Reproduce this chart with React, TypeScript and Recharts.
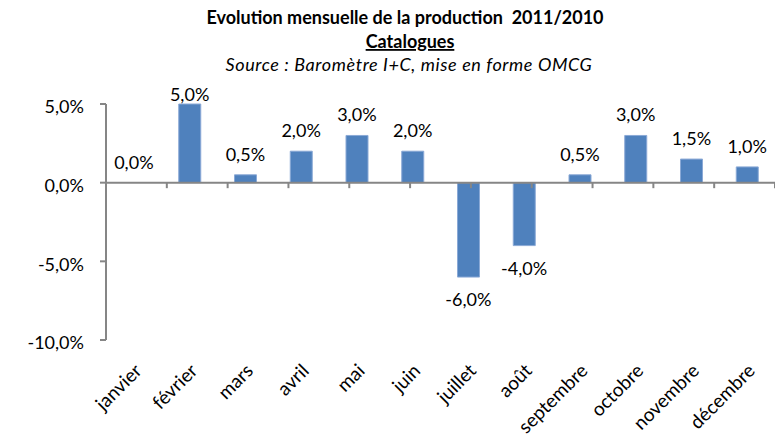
import React from "react";
import {
    ComposedChart, Bar, Line, XAxis, YAxis, ReferenceLine, LabelList
} from "recharts";

const MONTHS = [
    "janvier", "février", "mars", "avril", "mai", "juin",
    "juillet", "août", "septembre", "octobre", "novembre", "décembre"
];
const VALUES = [0, 5, 0.5, 2, 3, 2, -6, -4, 0.5, 3, 1.5, 1];
const Y_TICKS = [-10, -5, 0, 5];

const TITLE = "Evolution mensuelle de la production\u00a0\u00a02011/2010";
const SUBTITLE = "Catalogues";
const SOURCE = "Source : Baromètre I+C, mise en forme OMCG";

const FONT = "Lato, 'Open Sans', sans-serif";
const AXIS = "#868686";

const pct = (v: number) => `${v.toFixed(1).replace(".", ",")}%`;

const data = MONTHS.map((m, i) => ({ month: m, value: VALUES[i], label: pct(VALUES[i]) }));
const boundaries = MONTHS.map((_, i) => i + 1);

function MonthTick({ x, y, payload }: any) {
    const ax = x + 9;
    const ay = y + 32;
    return (
        <text
            x={ax}
            y={ay}
            transform={`rotate(-45 ${ax} ${ay})`}
            textAnchor="end"
            fontFamily={FONT}
            fontSize={19}
            fill="#000"
        >
            {payload.value}
        </text>
    );
}

// labels hang off an invisible line so the zero bar (janvier) gets one too
function ValueLabel({ x, y, value, index }: any) {
    const ty = VALUES[index] >= 0 ? Math.max(y - 14, 101) : y + 29;
    return (
        <text x={x} y={ty} textAnchor="middle" fontFamily={FONT} fontSize={18} fill="#000">
            {value}
        </text>
    );
}

export default function App() {
    return (
        <div style={{ position: "absolute", left: 0, top: 0, width: 775, height: 439, background: "#fff" }}>
            <svg width={775} height={80} style={{ position: "absolute", left: 0, top: 0 }}>
                <text x={405} y={24} textAnchor="middle" fontFamily={FONT} fontWeight="bold" fontSize={18} fill="#000">
                    {TITLE}
                </text>
                <text x={410} y={48} textAnchor="middle" fontFamily={FONT} fontWeight="bold" fontSize={18} fill="#000" textDecoration="underline">
                    {SUBTITLE}
                </text>
                <text x={409} y={71} textAnchor="middle" fontFamily={FONT} fontStyle="italic" fontSize={18} letterSpacing={0.6} fill="#000">
                    {SOURCE}
                </text>
            </svg>
            <ComposedChart
                width={775}
                height={439}
                data={data}
                margin={{ top: 104, right: 0, bottom: 0, left: 0 }}
                barSize={22}
            >
                <XAxis
                    dataKey="month"
                    interval={0}
                    axisLine={false}
                    tickLine={false}
                    tickSize={0}
                    tickMargin={0}
                    height={99}
                    tick={<MonthTick />}
                />
                <XAxis xAxisId="n" type="number" domain={[0, 12]} allowDataOverflow hide />
                <YAxis
                    domain={[-10, 5]}
                    ticks={Y_TICKS}
                    width={106}
                    stroke={AXIS}
                    strokeWidth={2}
                    tickSize={6}
                    tickMargin={16}
                    tickFormatter={pct}
                    tick={{ fontFamily: FONT, fontSize: 18, fill: "#000", dy: 3 }}
                />
                <ReferenceLine y={0} stroke={AXIS} strokeWidth={2} />
                {boundaries.map((b) => (
                    <ReferenceLine
                        key={b}
                        xAxisId="n"
                        segment={[{ x: b, y: 0 }, { x: b, y: -0.35 }]}
                        stroke={AXIS}
                        strokeWidth={2}
                        ifOverflow="visible"
                    />
                ))}
                <Bar dataKey="value" fill="#4F81BD" stroke="#8aa9d6" strokeWidth={1} isAnimationActive={false} />
                <Line
                    dataKey="value"
                    stroke="none"
                    dot={false}
                    activeDot={false}
                    legendType="none"
                    isAnimationActive={false}
                >
                    <LabelList dataKey="label" content={<ValueLabel />} />
                </Line>
            </ComposedChart>
        </div>
    );
}
